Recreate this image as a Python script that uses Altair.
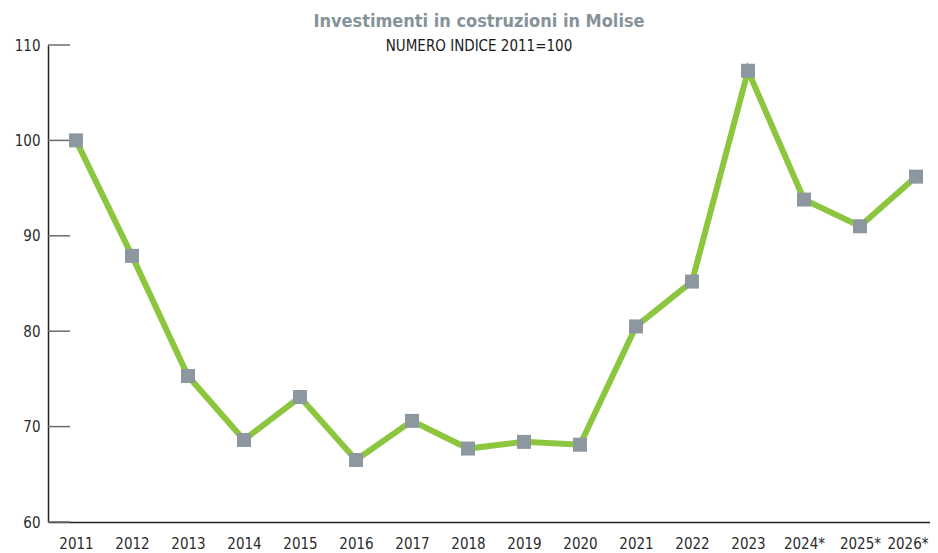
import altair as alt
import pandas as pd

years = ["2011", "2012", "2013", "2014", "2015", "2016", "2017", "2018",
         "2019", "2020", "2021", "2022", "2023", "2024*", "2025*", "2026*"]
values = [100.0, 87.9, 75.3, 68.6, 73.1, 66.5, 70.6, 67.7,
          68.4, 68.1, 80.5, 85.2, 107.3, 93.8, 91.0, 96.2]
y_ticks = [60, 70, 80, 90, 100, 110]

df = pd.DataFrame({"idx": list(range(len(years))), "year": years, "value": values})
ticks_df = pd.DataFrame({"t": y_ticks})

FONT = "'DejaVu Sans Condensed', Roboto, sans-serif"
label_expr = "[" + ",".join("'%s'" % y for y in years) + "][datum.value]"
last = len(years) - 1

x_scale = alt.Scale(domain=[-0.5, 15.25], nice=False, zero=False)
y_scale = alt.Scale(domain=[60, 110], nice=False, zero=False)

line = alt.Chart(df).mark_line(color="#8cc63f", strokeWidth=6).encode(
    x=alt.X("idx:Q", scale=x_scale,
            axis=alt.Axis(title=None, values=list(range(len(years))), labelExpr=label_expr,
                          labelFont=FONT, labelFontSize=15, labelColor="#2b2b2b",
                          labelAlign={"expr": "datum.value == %d ? 'right' : 'center'" % last},
                          labelOffset={"expr": "datum.value == %d ? 12 : 0" % last},
                          ticks=False, domain=True, domainColor="#222222",
                          domainWidth=1.5, labelPadding=14, grid=False,
                          labelFlush=False, labelOverlap=False)),
    y=alt.Y("value:Q", scale=y_scale,
            axis=alt.Axis(title=None, values=y_ticks, labelFont=FONT, labelFontSize=15,
                          labelColor="#2b2b2b", ticks=False, domain=True,
                          domainColor="#222222", domainWidth=1.5, labelPadding=8,
                          grid=False)),
)

pts = alt.Chart(df).mark_square(color="#8c979f", opacity=1, size=196).encode(
    x=alt.X("idx:Q", scale=x_scale),
    y=alt.Y("value:Q", scale=y_scale),
)

tick_rules = alt.Chart(ticks_df).mark_rule(color="#6b6b6b", strokeWidth=1.5).encode(
    y=alt.Y("t:Q", scale=y_scale),
    x=alt.value(0),
    x2=alt.value(22),
)

chart = alt.layer(tick_rules, line, pts).properties(
    width=882, height=477,
    autosize=alt.AutoSizeParams(type="none"),
    padding={"left": 40, "top": 37, "right": 0, "bottom": 31},
    title=alt.TitleParams(
        text="Investimenti in costruzioni in Molise",
        subtitle="NUMERO INDICE 2011=100",
        font=FONT, fontSize=18, fontWeight="bold", color="#86939b",
        subtitleFont=FONT, subtitleFontSize=15, subtitleColor="#1a1a1a",
        subtitlePadding=8, anchor="middle", dx=-10, offset=-16,
    ),
).configure_view(stroke=None)

chart.save("out.html", embed_options={"renderer": "svg", "actions": False})
